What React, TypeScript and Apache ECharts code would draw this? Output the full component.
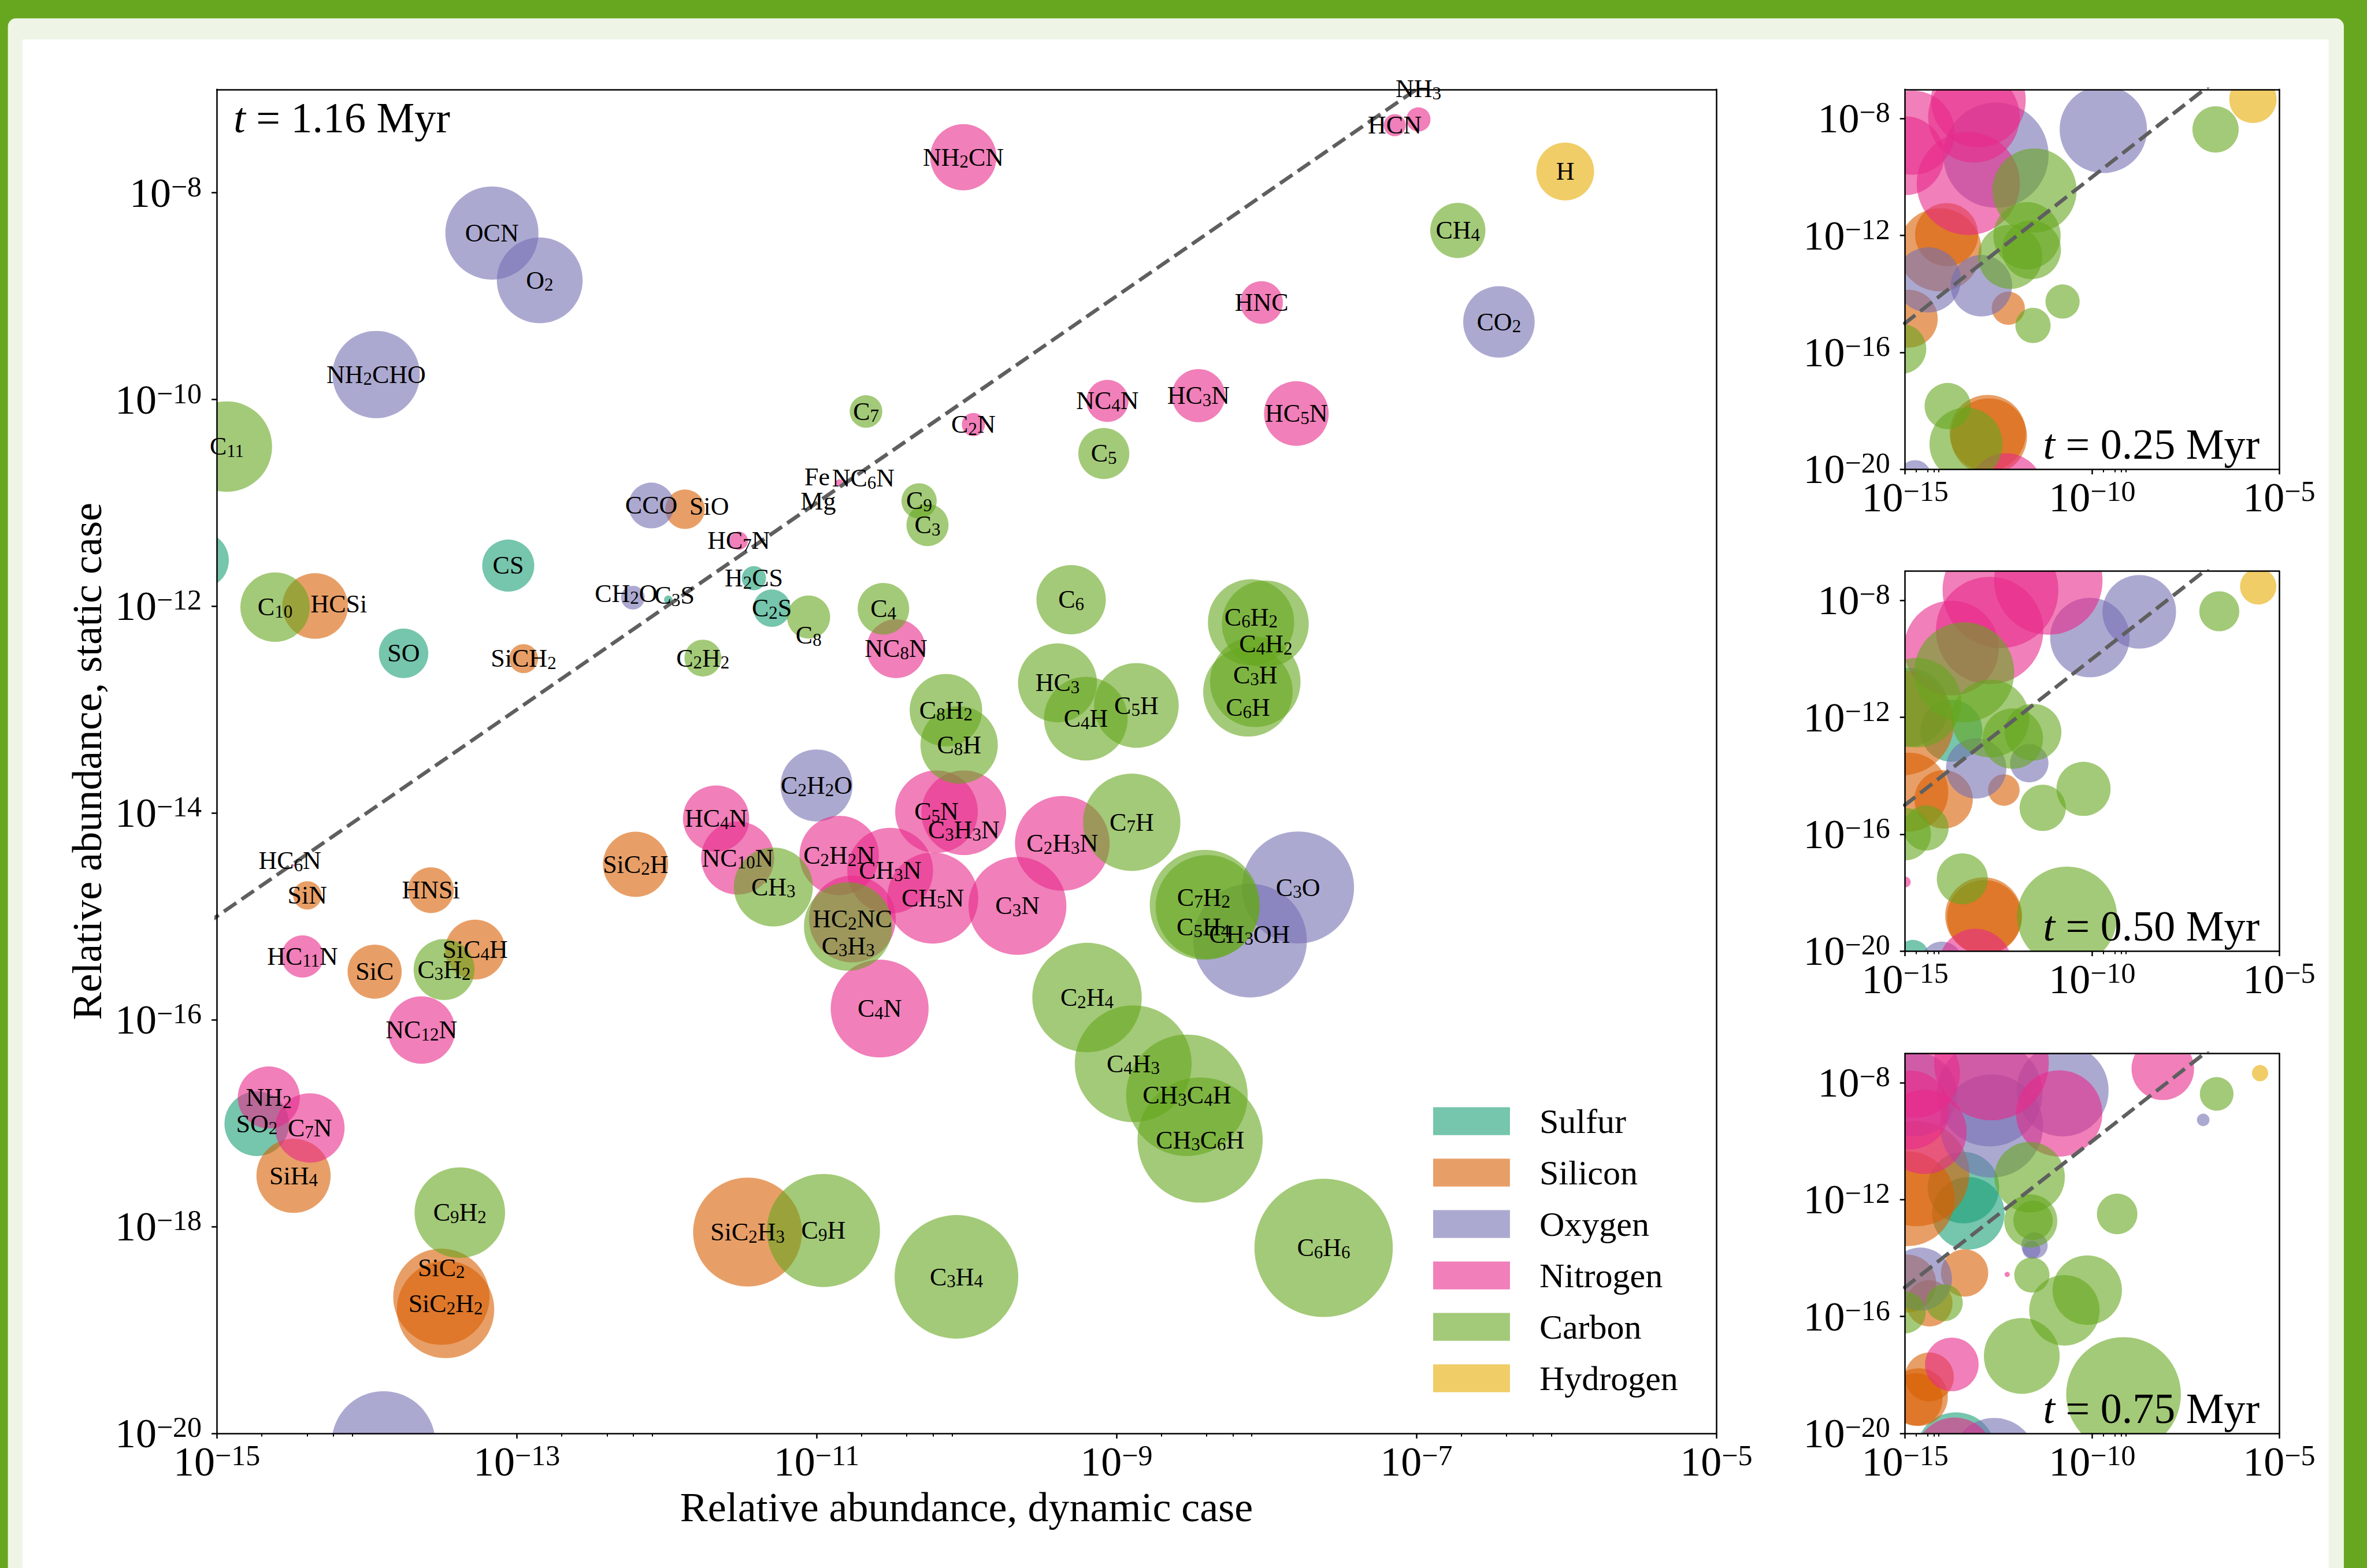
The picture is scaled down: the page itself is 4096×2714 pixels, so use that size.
import React, { useEffect, useRef } from 'react';
import * as echarts from 'echarts';

// Everything is laid out on a 4499-wide design canvas and scaled to the window.
const S = 4096 / 4499;
const FONT = '"Liberation Serif", "DejaVu Serif", serif';

// ---------- data: [species, log10 abundance (dynamic), log10 abundance (static), bubble size] ----------
type Species = [string, number, number, number];

const sulfur: Species[] = [
  ['H2S', -15.109, -11.555, 108],
  ['CS', -13.056, -11.606, 99],
  ['SO', -13.754, -12.455, 94],
  ['C3S', -11.989, -11.936, 16],
  ['H2CS', -11.418, -11.728, 46],
  ['C2S', -11.298, -12.018, 71],
  ['SO2', -14.733, -17.005, 123],
];

const silicon: Species[] = [
  ['SiO', -11.877, -11.061, 75],
  ['HCSi', -14.344, -11.997, 125],
  ['SiCH2', -12.954, -12.506, 55],
  ['SiN', -14.396, -14.796, 54],
  ['HNSi', -13.572, -14.746, 87],
  ['SiC2H', -12.207, -14.496, 124],
  ['SiC', -13.947, -15.534, 103],
  ['SiC4H', -13.277, -15.321, 114],
  ['SiH4', -14.488, -17.509, 141],
  ['SiC2', -13.502, -18.679, 183],
  ['SiC2H2', -13.474, -18.802, 185],
  ['SiC2H3', -11.46, -18.053, 207],
];

const oxygen: Species[] = [
  ['OCN', -13.165, -8.389, 177],
  ['O2', -12.846, -8.847, 163],
  ['NH2CHO', -13.937, -9.758, 166],
  ['CCO', -12.102, -11.025, 87],
  ['CO2', -6.449, -9.249, 136],
  ['CH2O', -12.225, -11.916, 45],
  ['C2H2O', -11.0, -13.733, 137],
  ['C3O', -7.789, -14.72, 213],
  ['CH3OH', -8.109, -15.234, 216],
  ['H2O', -13.888, -20.094, 197],
];

const nitrogen: Species[] = [
  ['NH3', -6.986, -7.29, 46],
  ['HCN', -7.144, -7.346, 42],
  ['NH2CN', -10.021, -7.656, 126],
  ['HNC', -8.032, -9.061, 81],
  ['C2N', -9.954, -10.242, 44],
  ['NC4N', -9.06, -10.013, 80],
  ['HC3N', -8.453, -9.962, 101],
  ['HC5N', -7.8, -10.135, 123],
  ['NC6N', -10.849, -10.807, 14],
  ['HC7N', -11.519, -11.366, 35],
  ['NC8N', -10.47, -12.41, 112],
  ['HC6N', -14.481, -14.506, 6],
  ['HC4N', -11.67, -14.053, 126],
  ['NC10N', -11.526, -14.435, 139],
  ['C2H2N', -10.849, -14.41, 151],
  ['CH3N', -10.509, -14.557, 163],
  ['C5N', -10.2, -13.987, 157],
  ['C3H3N', -10.018, -13.997, 161],
  ['C2H3N', -9.361, -14.293, 180],
  ['HC2NC', -10.761, -15.025, 165],
  ['CH5N', -10.225, -14.822, 173],
  ['C3N', -9.66, -14.898, 186],
  ['HC11N', -14.428, -15.387, 80],
  ['NC12N', -13.635, -16.099, 128],
  ['C4N', -10.579, -15.891, 186],
  ['NH2', -14.653, -16.751, 118],
  ['C7N', -14.379, -17.046, 132],
];

const carbon: Species[] = [
  ['CH4', -6.723, -8.364, 105],
  ['C11', -14.933, -10.455, 172],
  ['C7', -10.67, -10.115, 62],
  ['C5', -9.084, -10.522, 97],
  ['C9', -10.316, -10.98, 67],
  ['C3', -10.26, -11.214, 80],
  ['C10', -14.611, -12.008, 132],
  ['C8', -11.053, -12.104, 82],
  ['C2H2', -11.758, -12.501, 70],
  ['C4', -10.554, -12.023, 98],
  ['C6', -9.302, -11.936, 132],
  ['HC3', -9.393, -12.74, 150],
  ['C4H', -9.204, -13.087, 159],
  ['C5H', -8.867, -12.959, 161],
  ['C8H2', -10.137, -13.005, 138],
  ['C8H', -10.049, -13.341, 147],
  ['C6H2', -8.102, -12.155, 164],
  ['C4H2', -8.007, -12.17, 165],
  ['C3H', -8.074, -12.73, 172],
  ['C6H', -8.123, -12.827, 170],
  ['C7H', -8.898, -14.089, 185],
  ['CH3', -11.288, -14.715, 150],
  ['C3H3', -10.789, -15.097, 168],
  ['C3H2', -13.484, -15.514, 116],
  ['C2H4', -9.196, -15.784, 208],
  ['C7H2', -8.411, -14.888, 209],
  ['C5H4', -8.393, -14.908, 197],
  ['C4H3', -8.888, -16.425, 222],
  ['CH3C4H', -8.53, -16.73, 231],
  ['CH3C6H', -8.442, -17.163, 238],
  ['C6H6', -7.618, -18.206, 263],
  ['C9H2', -13.379, -17.865, 172],
  ['C9H', -10.954, -18.038, 215],
  ['C3H4', -10.067, -18.486, 235],
];

const hydrogen: Species[] = [['H', -6.007, -7.794, 110]];

// metals annotated without a visible bubble: [species, log10 dynamic, log10 static]
const metals: [string, number, number][] = [
  ['Fe', -10.996, -10.746],
  ['Mg', -10.989, -10.985],
];

// label anchors that were nudged away from their bubble (data coordinates)
const labelAt: Record<string, [number, number]> = {
  HCSi: [-14.186, -11.977],
  SiO: [-11.716, -11.036],
  NH3: [-6.986, -6.995],
  NC6N: [-10.688, -10.761],
  CH2O: [-12.27, -11.875],
  C3S: [-11.947, -11.896],
  HC6N: [-14.512, -14.461],
  C8: [-11.053, -12.282],
  C3H3N: [-10.018, -14.165],
  C3H3: [-10.789, -15.285],
  C6H2: [-8.102, -12.104],
  C4H2: [-8.004, -12.364],
  C3H: [-8.074, -12.664],
  C6H: [-8.123, -12.98],
  C7H2: [-8.418, -14.817],
  C5H4: [-8.421, -15.102],
  CH3OH: [-8.112, -15.173],
  SiC2: [-13.502, -18.399],
  SiC2H2: [-13.474, -18.746],
};

// earlier snapshots: [family, log10 dynamic, log10 static, bubble size]
type Dot = [string, number, number, number];

const snapshot025: Dot[] = [
  ['H', -5.7, -7.34, 90], ['C', -6.7, -8.37, 88], ['O', -9.7, -8.37, 166],
  ['C', -11.54, -10.46, 160], ['O', -12.57, -9.25, 200], ['N', -13.31, -10.22, 196],
  ['N', -13.16, -7.94, 174], ['N', -13.04, -7.36, 180], ['N', -14.8, -8.48, 160],
  ['N', -15.01, -9.27, 150], ['C', -11.74, -12.01, 128], ['C', -11.62, -12.49, 112],
  ['C', -12.19, -12.73, 122], ['O', -12.96, -13.72, 117], ['Si', -13.89, -11.97, 120],
  ['Si', -14.07, -12.49, 158], ['O', -14.38, -13.52, 124], ['Si', -12.24, -14.49, 63],
  ['C', -11.58, -15.08, 67], ['C', -10.79, -14.26, 65], ['Si', -14.9, -14.85, 110],
  ['C', -15.1, -15.88, 95], ['C', -13.86, -17.84, 88], ['C', -13.37, -19.14, 139],
  ['Si', -12.79, -18.76, 145], ['Si', -12.76, -18.88, 145], ['N', -12.3, -20.74, 143],
  ['O', -14.73, -20.23, 60],
];

const snapshot050: Dot[] = [
  ['H', -5.56, -7.52, 69], ['C', -6.6, -8.37, 76], ['O', -8.74, -8.39, 140],
  ['O', -10.06, -9.27, 151], ['N', -11.17, -7.32, 206], ['N', -12.45, -7.65, 220],
  ['N', -12.74, -9.03, 204], ['N', -13.76, -9.63, 180], ['C', -13.42, -10.46, 190],
  ['C', -14.69, -11.5, 170], ['S', -14.9, -11.66, 150], ['S', -13.76, -12.46, 118],
  ['Si', -15.1, -12.19, 200], ['C', -12.72, -12.04, 148], ['C', -12.12, -12.73, 115],
  ['C', -11.58, -12.51, 108], ['O', -13.1, -13.75, 115], ['O', -11.68, -13.57, 73],
  ['Si', -12.36, -14.49, 60], ['Si', -13.97, -14.81, 111], ['Si', -14.9, -14.56, 150],
  ['C', -14.44, -15.79, 86], ['C', -15.01, -16.0, 100], ['C', -11.32, -15.1, 88],
  ['C', -10.23, -14.45, 103], ['N', -14.99, -17.64, 20], ['C', -13.47, -17.53, 97],
  ['Si', -12.9, -18.79, 146], ['Si', -12.88, -18.85, 142], ['C', -10.67, -18.82, 190],
  ['S', -14.79, -20.16, 60], ['O', -14.02, -20.4, 80], ['N', -13.12, -20.5, 140],
];

const snapshot075: Dot[] = [
  ['H', -5.51, -7.67, 31], ['C', -6.67, -8.38, 64], ['O', -7.03, -9.27, 24],
  ['N', -8.11, -7.52, 119], ['N', -10.88, -9.05, 164], ['O', -10.79, -8.26, 175],
  ['O', -12.74, -8.37, 201], ['N', -12.69, -7.32, 218], ['O', -12.69, -9.48, 196],
  ['N', -14.73, -7.67, 170], ['N', -14.87, -8.93, 150], ['O', -14.73, -8.39, 160],
  ['N', -14.48, -9.68, 160], ['C', -11.67, -11.23, 134], ['S', -13.44, -11.59, 136],
  ['S', -13.31, -12.47, 138], ['Si', -14.69, -11.11, 200], ['Si', -14.94, -11.97, 180],
  ['C', -11.64, -12.73, 101], ['C', -11.58, -12.71, 75], ['O', -11.54, -13.57, 50],
  ['O', -11.62, -13.72, 34], ['N', -12.27, -14.56, 10], ['C', -11.61, -14.58, 67],
  ['C', -9.33, -12.49, 77], ['C', -10.13, -15.1, 132], ['C', -10.74, -15.79, 134],
  ['Si', -13.41, -14.51, 90], ['O', -14.59, -14.72, 120], ['Si', -14.35, -15.55, 88],
  ['C', -13.95, -15.53, 70], ['Si', -14.94, -14.87, 110], ['C', -15.01, -15.86, 80],
  ['C', -11.88, -17.35, 144], ['N', -13.75, -17.64, 102], ['Si', -14.35, -18.07, 93],
  ['Si', -14.63, -18.76, 110], ['Si', -14.7, -18.84, 100], ['C', -9.16, -18.67, 218],
  ['S', -13.64, -20.65, 152], ['O', -12.62, -20.92, 161], ['N', -13.68, -20.81, 150],
  ['O', -12.06, -21.17, 120],
];

const snapshotTimes = ['0.25', '0.50', '0.75'];
const mainTime = '1.16';

// axis ticks (exponents of ten)
const mainXTicks = [-15, -13, -11, -9, -7, -5];
const mainYTicks = [-20, -18, -16, -14, -12, -10, -8];
const insetXTicks = [-15, -10, -5];
const insetYTicks = [-20, -16, -12, -8];
const mainMinorDecades = [-15, -13, -11, -9, -7];
const insetMinorDecades = [-15, -10];
const minorMultiples = [2, 4, 6, 8];

const families = [
  { key: 'S', name: 'Sulfur', color: 'rgba(27,158,119,0.6)', rows: sulfur },
  { key: 'Si', name: 'Silicon', color: 'rgba(217,95,2,0.6)', rows: silicon },
  { key: 'O', name: 'Oxygen', color: 'rgba(117,112,179,0.6)', rows: oxygen },
  { key: 'N', name: 'Nitrogen', color: 'rgba(231,41,138,0.6)', rows: nitrogen },
  { key: 'C', name: 'Carbon', color: 'rgba(102,166,30,0.6)', rows: carbon },
  { key: 'H', name: 'Hydrogen', color: 'rgba(230,171,2,0.6)', rows: hydrogen },
];

// ---------- layout (design px) ----------
const MAIN_BOX = { left: 412, top: 170, width: 2850, height: 2555 };
const INSET_BOXES = [170, 1086, 2003].map((top) => ({ left: 3621, top, width: 711, height: 722 }));
const X_RANGE = [-15, -5];
const Y_RANGE = [-20, -7];

const LABEL_FS = 44;
const TICK_FS = 72;
const TITLE_FS = 72;
const TIME_FS = 74;

function toRich(name: string) {
  return ('{n|' + name.replace(/(\d+)/g, '}{s|$1}{n|') + '}').replace(/\{n\|\}/g, '');
}

const tickRich = {
  m: { fontFamily: FONT, fontSize: TICK_FS, lineHeight: TICK_FS, color: '#000', verticalAlign: 'middle' },
  e: { fontFamily: FONT, fontSize: 50, lineHeight: 58, color: '#000', verticalAlign: 'top' },
};

const labelRich = {
  n: { fontFamily: FONT, fontSize: LABEL_FS, lineHeight: 46, fill: '#000', verticalAlign: 'middle' },
  s: { fontFamily: FONT, fontSize: 31, lineHeight: 24, fill: '#000', verticalAlign: 'bottom' },
};

const timeRich = {
  i: { fontFamily: FONT, fontSize: TIME_FS, fontStyle: 'italic', fill: '#000' },
  n: { fontFamily: FONT, fontSize: TIME_FS, fill: '#000' },
};

const tickFormatter = (v: number) => `{m|10}{e|\u2212${Math.round(Math.abs(v))}}`;
const spine = { color: '#000', width: 2.5 };

function minorValues(decades: number[]) {
  const out: number[] = [];
  decades.forEach((d) => minorMultiples.forEach((k) => out.push(d + Math.log10(k))));
  return out;
}

function buildOption() {
  const boxes = [MAIN_BOX, ...INSET_BOXES];
  const grid = boxes.map((b) => ({
    left: b.left * S,
    top: b.top * S,
    width: b.width * S,
    height: b.height * S,
    containLabel: false,
  }));

  const xAxis: any[] = [];
  const yAxis: any[] = [];
  boxes.forEach((_, g) => {
    const isMain = g === 0;
    const xt = isMain ? mainXTicks : insetXTicks;
    const yt = isMain ? mainYTicks : insetYTicks;
    xAxis.push({
      gridIndex: g, type: 'value', position: 'bottom', min: X_RANGE[0], max: X_RANGE[1], z: 10,
      name: isMain ? 'Relative abundance, dynamic case' : '',
      nameLocation: 'middle', nameGap: 92,
      nameTextStyle: { fontFamily: FONT, fontSize: TITLE_FS, color: '#000' },
      axisLine: { show: true, onZero: false, lineStyle: spine },
      axisTick: { show: true, length: 9, lineStyle: spine, customValues: xt },
      axisLabel: { show: true, margin: 13, formatter: tickFormatter, rich: tickRich, customValues: xt },
      splitLine: { show: false },
    });
    xAxis.push({
      gridIndex: g, type: 'value', position: 'top', min: X_RANGE[0], max: X_RANGE[1], z: 10,
      axisLine: { show: true, onZero: false, lineStyle: spine },
      axisTick: { show: false }, axisLabel: { show: false }, splitLine: { show: false },
    });
    xAxis.push({
      gridIndex: g, type: 'value', position: 'bottom', min: X_RANGE[0], max: X_RANGE[1], z: 10,
      axisLine: { show: false },
      axisTick: {
        show: true, length: 5.5, lineStyle: { color: '#000', width: 2 },
        customValues: minorValues(isMain ? mainMinorDecades : insetMinorDecades),
      },
      axisLabel: { show: false }, splitLine: { show: false },
    });
    yAxis.push({
      gridIndex: g, type: 'value', position: 'left', min: Y_RANGE[0], max: Y_RANGE[1], z: 10,
      name: isMain ? 'Relative abundance, static case' : '',
      nameLocation: 'middle', nameGap: 188, nameRotate: 90,
      nameTextStyle: { fontFamily: FONT, fontSize: TITLE_FS, color: '#000' },
      axisLine: { show: true, onZero: false, lineStyle: spine },
      axisTick: { show: true, length: 9, lineStyle: spine, customValues: yt },
      axisLabel: { show: true, margin: 26, formatter: tickFormatter, rich: tickRich, customValues: yt },
      splitLine: { show: false },
    });
    yAxis.push({
      gridIndex: g, type: 'value', position: 'right', min: Y_RANGE[0], max: Y_RANGE[1], z: 10,
      axisLine: { show: true, onZero: false, lineStyle: spine },
      axisTick: { show: false }, axisLabel: { show: false }, splitLine: { show: false },
    });
  });

  const bubbleRenderer = (color: string) => (params: any, api: any) => {
    const c = api.coord([api.value(0), api.value(1)]);
    const r = (api.value(2) * S) / 2;
    return { type: 'circle', shape: { cx: c[0], cy: c[1], r }, style: { fill: color } };
  };

  const series: any[] = [];
  const snapshots = [snapshot025, snapshot050, snapshot075];

  boxes.forEach((_, g) => {
    families.forEach((f) => {
      const data =
        g === 0
          ? f.rows.map((r) => [r[1], r[2], r[3]])
          : snapshots[g - 1].filter((d) => d[0] === f.key).map((d) => [d[1], d[2], d[3]]);
      series.push({
        name: f.name,
        type: 'custom',
        xAxisIndex: g * 3,
        yAxisIndex: g * 2,
        clip: true,
        silent: true,
        z: 2,
        itemStyle: { color: f.color },
        renderItem: bubbleRenderer(f.color),
        data,
      });
    });
    // one-to-one reference line
    series.push({
      name: 'one-to-one',
      type: 'line',
      xAxisIndex: g * 3,
      yAxisIndex: g * 2,
      data: [[-20, -20], [-5, -5]],
      symbol: 'none',
      showSymbol: false,
      clip: true,
      silent: true,
      z: 4,
      lineStyle: { color: '#5f5f5f', width: 6.5, type: [26, 11] },
    });
  });

  // species labels on the main panel (only for points inside the axes)
  const labelNames: string[] = [];
  const labelData: number[][] = [];
  const inside = (x: number, y: number) =>
    x >= X_RANGE[0] && x <= X_RANGE[1] && y >= Y_RANGE[0] && y <= Y_RANGE[1];
  families.forEach((f) =>
    f.rows.forEach((r) => {
      if (!inside(r[1], r[2])) return;
      const at = labelAt[r[0]] || [r[1], r[2]];
      labelNames.push(r[0]);
      labelData.push([at[0], at[1]]);
    })
  );
  metals.forEach((m) => {
    labelNames.push(m[0]);
    labelData.push([m[1], m[2]]);
  });
  series.push({
    name: 'species',
    type: 'custom',
    xAxisIndex: 0,
    yAxisIndex: 0,
    clip: false,
    silent: true,
    z: 6,
    data: labelData,
    renderItem: (params: any, api: any) => {
      const c = api.coord([api.value(0), api.value(1)]);
      return {
        type: 'text',
        x: c[0],
        y: c[1],
        style: {
          text: toRich(labelNames[params.dataIndex]),
          rich: labelRich,
          fontFamily: FONT,
          fontSize: LABEL_FS,
          fill: '#000',
          align: 'center',
          verticalAlign: 'middle',
        },
      };
    },
  });

  const timeLabels: any[] = [
    {
      type: 'text',
      z: 20,
      x: (MAIN_BOX.left + 32) * S,
      y: (MAIN_BOX.top + 82) * S - 25,
      style: {
        text: `{i|t}{n| = ${mainTime} Myr}`,
        rich: timeRich,
        fontFamily: FONT,
        fontSize: TIME_FS,
        fill: '#000',
        align: 'left',
        verticalAlign: 'middle',
      },
    },
    ...INSET_BOXES.map((b, i) => ({
      type: 'text',
      z: 20,
      x: (b.left + b.width - 37) * S,
      y: (b.top + b.height - 20) * S - 25,
      style: {
        text: `{i|t}{n| = ${snapshotTimes[i]} Myr}`,
        rich: timeRich,
        fontFamily: FONT,
        fontSize: TIME_FS,
        fill: '#000',
        align: 'right',
        verticalAlign: 'middle',
      },
    })),
  ];

  return {
    animation: false,
    backgroundColor: '#67a71f',
    graphic: [
      {
        type: 'rect',
        z: -2,
        silent: true,
        shape: { x: 15 * S, y: 35 * S, width: (4455 - 15) * S, height: 3000, r: [14, 14, 0, 0] },
        style: { fill: '#eef5e6' },
      },
      {
        type: 'rect',
        z: -1,
        silent: true,
        shape: { x: 43 * S, y: 75 * S, width: (4426 - 43) * S, height: 3000 },
        style: { fill: '#ffffff' },
      },
      ...timeLabels,
    ],
    legend: {
      orient: 'vertical',
      left: 2724 * S,
      top: 2102 * S - 3,
      padding: 0,
      itemWidth: 146 * S,
      itemHeight: 53 * S,
      itemGap: 29,
      selectedMode: false,
      textStyle: { fontFamily: FONT, fontSize: 60, color: '#000', padding: [0, 0, 0, 46] },
      data: families.map((f) => ({ name: f.name, icon: 'rect', itemStyle: { color: f.color } })),
    },
    grid,
    xAxis,
    yAxis,
    series,
  };
}

export default function App() {
  const ref = useRef<HTMLDivElement>(null);
  useEffect(() => {
    if (!ref.current) return;
    const chart = echarts.init(ref.current, undefined, { renderer: 'svg' });
    chart.setOption(buildOption() as any);
    return () => chart.dispose();
  }, []);
  return <div ref={ref} style={{ position: 'fixed', left: 0, top: 0, width: 4096, height: 2714 }} />;
}
